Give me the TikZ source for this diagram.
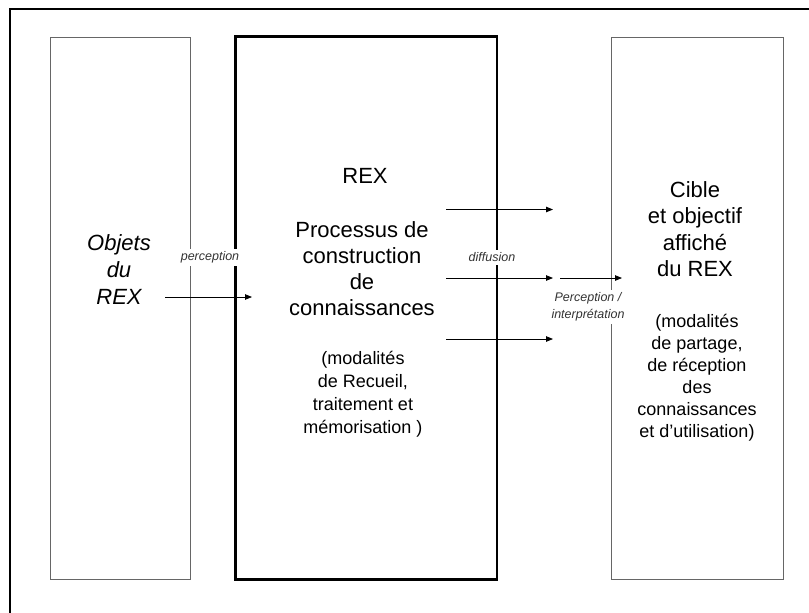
\documentclass[tikz,border=0pt]{standalone}
\usepackage{fontspec}
\setmainfont{Liberation Sans}
\usetikzlibrary{arrows.meta}
\begin{document}
\begin{tikzpicture}[x=1pt,y=-1pt,
  sidebox/.style={draw=black!60, line width=1pt, inner sep=0pt},
  mainbox/.style={draw=black, line width=2.5pt, inner sep=0pt},
  bigtxt/.style={align=center, font=\fontsize{22}{26}\selectfont, inner sep=0pt},
  midtxt/.style={align=center, font=\fontsize{18}{23}\selectfont, inner sep=0pt},
  lbl/.style={fill=white, font=\itshape\fontsize{12.5}{17}\selectfont, text=black!80, inner sep=3pt, align=center},
  flow/.style={line width=0.8pt, -{Triangle[length=7pt,width=5.5pt]}}]
\useasboundingbox (0,0) rectangle (809,613);
\fill[white] (0,0) rectangle (809,613);
% outer frame (top and left sides)
\draw[line width=2pt] (809,8.5) -- (10,8.5) -- (10,613);

% the three columns
\node[sidebox, minimum width=140pt, minimum height=542pt] (objets) at (120.5,308) {};
\node[mainbox, minimum width=261.5pt, minimum height=543pt] (rex) at (366.25,308) {};
\node[sidebox, minimum width=172pt, minimum height=542pt] (cible) at (697,308) {};

% texts
\node[bigtxt, font=\itshape\fontsize{22}{27}\selectfont] (tobj) at (119,270) {Objets\\du\\REX};
\node[bigtxt] (trex) at (365,176) {REX};
\node[bigtxt] (tproc) at (362,269) {Processus de\\construction\\de\\connaissances};
\node[midtxt] (tmodc) at (363,394) {(modalités\\de Recueil,\\ traitement et\\mémorisation )};
\node[bigtxt, font=\fontsize{22}{26.5}\selectfont] (tcible) at (695,229) {Cible\\et objectif\\affiché\\du REX};
\node[midtxt, font=\fontsize{18}{22}\selectfont] (tmodr) at (697,378) {(modalités\\de partage,\\de réception\\des\\connaissances\\et d’utilisation)};

% arrows
\coordinate (p1) at (165,297);  \coordinate (p2) at (252,297);
\coordinate (d1a) at (446,209.5); \coordinate (d1b) at (553,209.5);
\coordinate (d2a) at (446,278); \coordinate (d2b) at (553,278);
\coordinate (d3a) at (446,339); \coordinate (d3b) at (553,339);
\coordinate (r1) at (560,278); \coordinate (r2) at (622,278);
\draw[flow] (p1) -- (p2);
\draw[flow] (d1a) -- (d1b);
\draw[flow] (d2a) -- (d2b);
\draw[flow] (d3a) -- (d3b);
\draw[flow] (r1) -- (r2);

% arrow labels
\node[lbl] (lperc) at (210,257.5) {perception};
\node[lbl] (ldiff) at (492,257.5) {diffusion};
\node[lbl] (linterp) at (588,307) {Perception /\\interprétation};
\end{tikzpicture}
\end{document}
